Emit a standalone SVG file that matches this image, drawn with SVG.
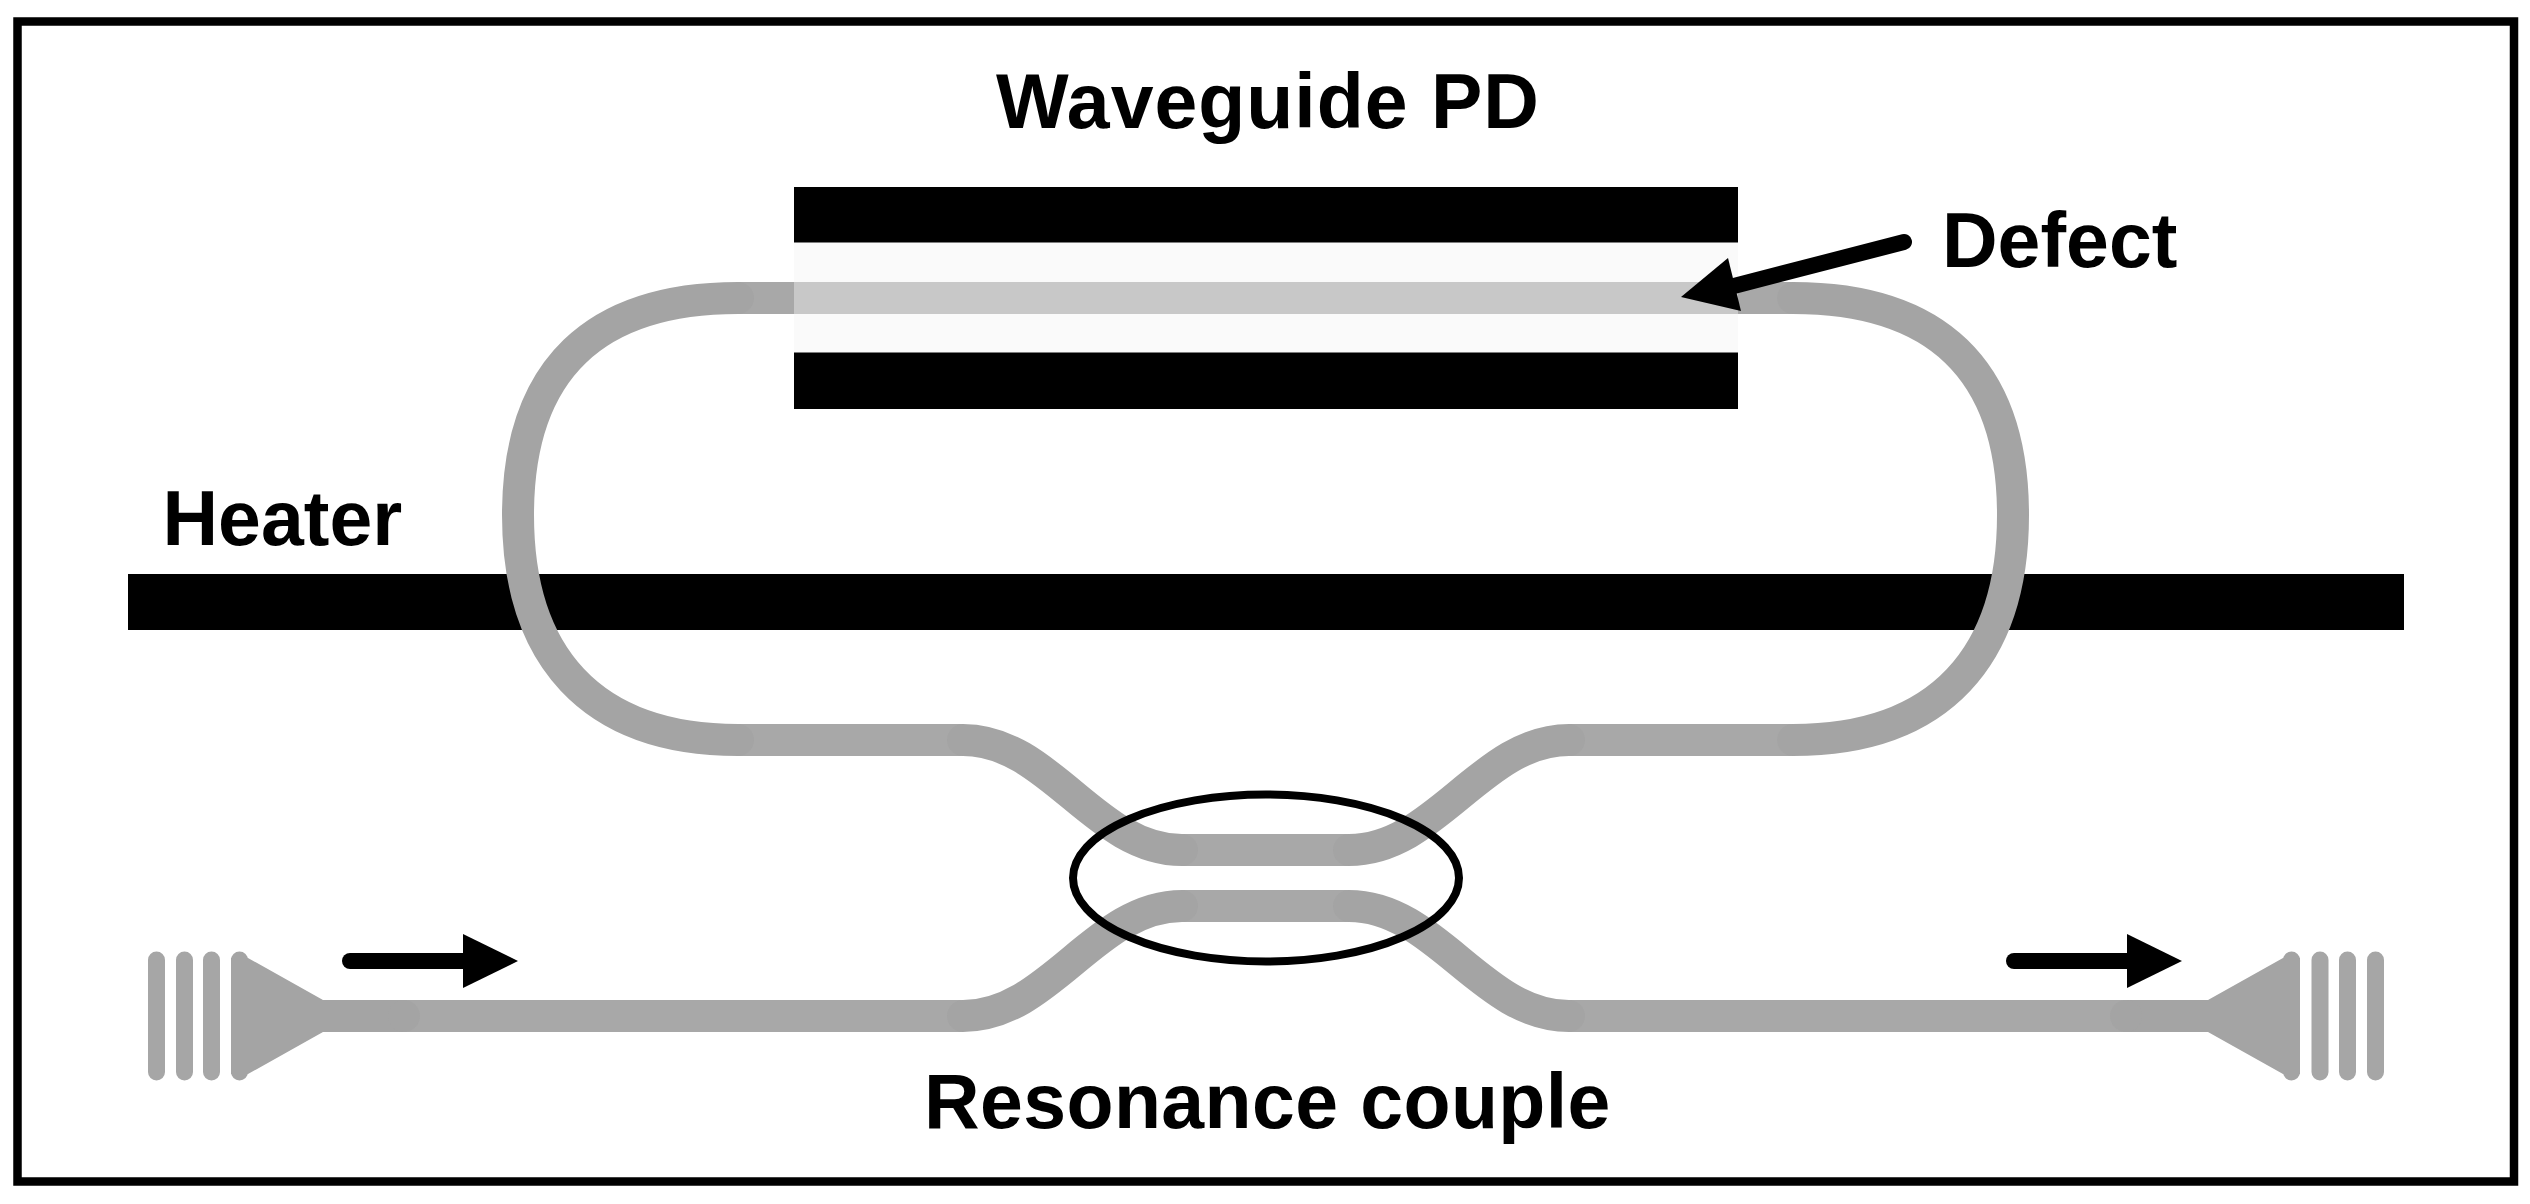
<svg xmlns="http://www.w3.org/2000/svg" width="2530" height="1204" viewBox="0 0 2530 1204">
<style>
.t{font-family:"Liberation Sans",Arial,sans-serif;font-weight:700;font-size:77px;fill:#000}
.s{fill:none;stroke:#a8a8a8;stroke-width:32}
.c{fill:none;stroke:#a4a4a4;stroke-width:32;stroke-linecap:round}
.b{fill:none;stroke:#a6a6a6;stroke-width:17;stroke-linecap:round}
.k{fill:none;stroke:#000;stroke-width:16;stroke-linecap:round}
</style>
<rect width="2530" height="1204" fill="#fff"/>
<rect id="frame" x="17.500" y="21.500" width="2496.500" height="1160" fill="none" stroke="#000" stroke-width="8.500"/>
<g id="heater"><rect x="128" y="574" width="2276" height="56" fill="#000"/><text class="t" x="162.500" y="545">Heater</text></g>
<g id="waveguide-pd">
<rect x="794" y="242" width="944" height="111" fill="#fafafa"/>
<rect x="794" y="187" width="944" height="55.500" fill="#000"/>
<rect x="794" y="352.500" width="944" height="56.500" fill="#000"/>
<rect x="794" y="282" width="944" height="32" fill="#c8c8c8"/>
<text class="t" x="996" y="128" letter-spacing="1">Waveguide PD</text>
</g>
<g id="connectors">
<path class="s" d="M738 298H794M1738 298H1793M738 740H963M1569 740H1793M404 1016H963M1569 1016H2126M1182 850H1349M1182 906H1349"/>
<path class="c" d="M1793 298C1935 298 2013 368 2013 515C2013 655 1941 740 1793 740"/>
<path class="c" d="M738 298C596 298 518 368 518 515C518 655 590 740 738 740"/>
<path class="c" d="M963 740C1050 740 1095 850 1182 850"/>
<path class="c" d="M1569 740C1482 740 1436 850 1349 850"/>
<path class="c" d="M963 1016C1050 1016 1095 906 1182 906"/>
<path class="c" d="M1569 1016C1482 1016 1436 906 1349 906"/>
</g>
<g id="coupler"><ellipse cx="1266" cy="878" rx="193" ry="83.500" fill="none" stroke="#000" stroke-width="8"/><text class="t" x="924" y="1128" letter-spacing="0.400">Resonance couple</text></g>
<g id="grating-left">
<path class="b" d="M156.500 960V1072M184.500 960V1072M211.500 960V1072"/>
<path class="b" style="stroke:#a4a4a4" d="M239.500 960V1072"/>
<path fill="#a4a4a4" d="M231 958H248L323 1000H404V1032H323L248 1074H231Z"/>
<circle cx="404" cy="1016" r="16" fill="#a4a4a4"/>
</g>
<g id="grating-right">
<path class="b" d="M2375.500 960V1072M2347.500 960V1072M2320 960V1072"/>
<path class="b" style="stroke:#a4a4a4" d="M2291.500 960V1072"/>
<path fill="#a4a4a4" d="M2300 958H2283L2208 1000H2126V1032H2208L2283 1074H2300Z"/>
<circle cx="2126" cy="1016" r="16" fill="#a4a4a4"/>
</g>
<g id="arrow-in"><path class="k" d="M350 961H470"/><path d="M463 934L518 961L463 988Z"/></g>
<g id="arrow-out"><path class="k" d="M2014 961H2134"/><path d="M2127 934L2182 961L2127 988Z"/></g>
<g id="defect"><path class="k" d="M1904 242L1730 287"/><path d="M1681 297L1728 258L1741 311Z"/><text class="t" x="1942" y="267">Defect</text></g>
</svg>
